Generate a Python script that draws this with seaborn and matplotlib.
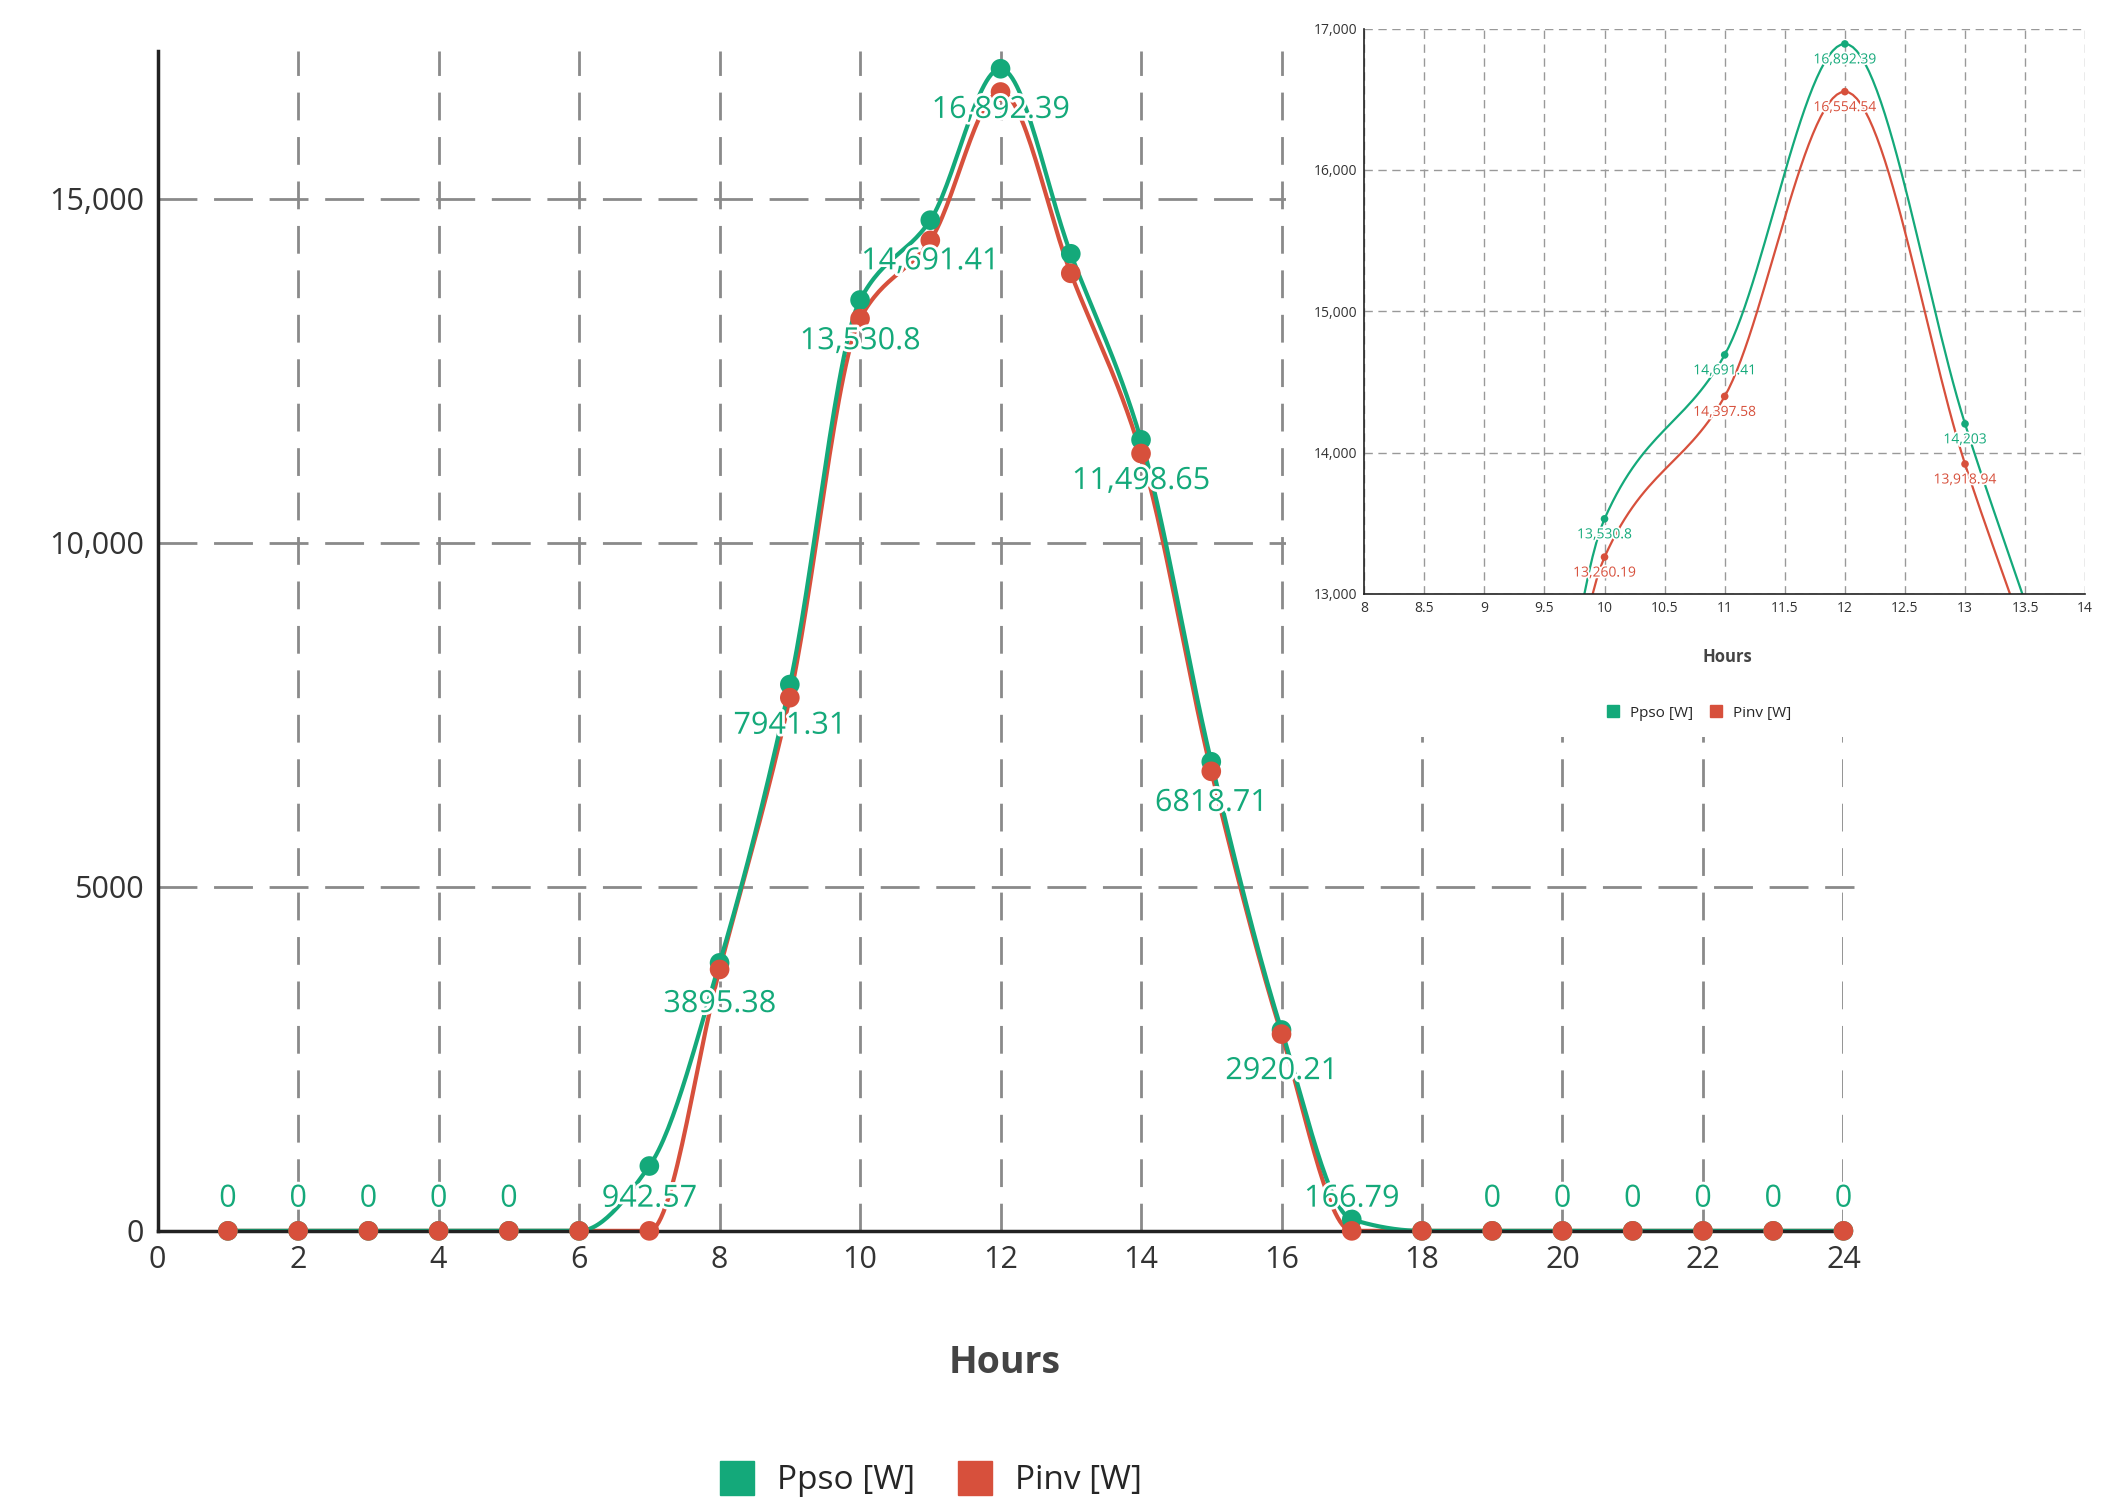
import matplotlib

matplotlib.use("Agg")

import matplotlib.pyplot as plt
import matplotlib.patheffects as pe
import numpy as np
import pandas as pd
import seaborn as sns
from matplotlib.lines import Line2D
from matplotlib.patches import Rectangle

hours = list(range(1, 25))
ppso = [0, 0, 0, 0, 0, 0, 942.57, 3895.38, 7941.31, 13530.8, 14691.41, 16892.39,
        14203, 11498.65, 6818.71, 2920.21, 166.79, 0, 0, 0, 0, 0, 0, 0]
pinv = [0, 0, 0, 0, 0, 0, 0, 3800, 7750, 13260.19, 14397.58, 16554.54,
        13918.94, 11300, 6680, 2860, 0, 0, 0, 0, 0, 0, 0, 0]
label_hours_main = [1, 2, 3, 4, 5, 7, 8, 9, 10, 11, 12, 14, 15, 16, 17, 19, 20, 21, 22, 23, 24]
label_hours_inset = [10, 11, 12, 13]

GREEN = "#14a97a"
RED = "#d7503c"
GRID = "#8a8a8a"
HALO = [pe.withStroke(linewidth=4, foreground="white")]


def smooth(x, y, n=30):
    # monotone cubic (Fritsch-Carlson) path through the points, no overshoot
    x = np.asarray(x, float)
    y = np.asarray(y, float)
    h = np.diff(x)
    d = np.diff(y) / h
    m = np.zeros_like(y)
    m[0], m[-1] = d[0], d[-1]
    for i in range(1, len(y) - 1):
        if d[i - 1] * d[i] > 0:
            m[i] = 2 / (1 / d[i - 1] + 1 / d[i])
    xs, ys = [], []
    t = np.linspace(0, 1, n, endpoint=False)
    for i in range(len(h)):
        h00 = 2 * t ** 3 - 3 * t ** 2 + 1
        h10 = t ** 3 - 2 * t ** 2 + t
        h01 = -2 * t ** 3 + 3 * t ** 2
        h11 = t ** 3 - t ** 2
        xs.extend(x[i] + t * h[i])
        ys.extend(h00 * y[i] + h10 * h[i] * m[i] + h01 * y[i + 1] + h11 * h[i] * m[i + 1])
    xs.append(x[-1])
    ys.append(y[-1])
    return pd.DataFrame({"x": xs, "y": ys})


def fmt(v):
    if v == 0:
        return "0"
    if v >= 10000:
        return f"{v:,.2f}".rstrip("0").rstrip(".")
    return f"{v:g}"


sns.set_theme(style="white")
plt.rcParams["font.family"] = ["Open Sans", "DejaVu Sans"]

df = pd.DataFrame({"hour": hours, "ppso": ppso, "pinv": pinv})
curve_g = smooth(hours, ppso)
curve_r = smooth(hours, pinv)

fig = plt.figure(figsize=(21.02, 15.11), dpi=100)
ax = fig.add_axes([0.075, 0.1854, 0.802, 0.781])

ax.set_xlim(0, 24)
ax.set_ylim(0, 17154)
ax.set_xticks(range(0, 25, 2))
ax.set_yticks([0, 5000, 10000, 15000])
ax.set_yticklabels(["0", "5000", "10,000", "15,000"])
for v in range(2, 25, 2):
    ax.axvline(v, color=GRID, lw=2, dashes=(10, 6), zorder=0)
for v in [5000, 10000, 15000]:
    ax.plot([0, 24.15], [v, v], color=GRID, lw=2, dashes=(14, 6), zorder=0, clip_on=False)

sns.lineplot(data=curve_r, x="x", y="y", color=RED, lw=3, ax=ax, clip_on=False)
sns.lineplot(data=curve_g, x="x", y="y", color=GREEN, lw=3, ax=ax, clip_on=False)
sns.scatterplot(data=df, x="hour", y="ppso", color=GREEN, s=200, edgecolor="none", ax=ax, zorder=4, clip_on=False)
sns.scatterplot(data=df, x="hour", y="pinv", color=RED, s=200, edgecolor="none", ax=ax, zorder=5, clip_on=False)

for h in label_hours_main:
    v = ppso[h - 1]
    if v < 1000:
        ax.text(h, 250, fmt(v), ha="center", va="bottom", color=GREEN, fontsize=22,
                path_effects=HALO, zorder=6)
    else:
        ax.text(h, v - 380, fmt(v), ha="center", va="top", color=GREEN, fontsize=22,
                path_effects=HALO, zorder=6)

for s in ["top", "right"]:
    ax.spines[s].set_visible(False)
for s in ["left", "bottom"]:
    ax.spines[s].set_color("#222222")
    ax.spines[s].set_linewidth(2.5)
ax.tick_params(axis="both", labelsize=22, colors="#333333", length=0, pad=10)
ax.set_xlabel("")
ax.set_ylabel("")
fig.text(0.478, 0.098, "Hours", ha="center", va="center", fontsize=27, fontweight="bold", color="#444444")

handles = [Line2D([], [], marker="s", ls="", color=GREEN, markersize=24),
           Line2D([], [], marker="s", ls="", color=RED, markersize=24)]
fig.legend(handles, ["Ppso [W]", "Pinv [W]"], loc="center", bbox_to_anchor=(0.439, 0.02),
           ncol=2, frameon=False, fontsize=24, handletextpad=0.2, columnspacing=0.8)

# inset covering the upper right part
fig.patches.append(Rectangle((0.612, 0.512), 0.388, 0.488, transform=fig.transFigure,
                             facecolor="white", edgecolor="none", zorder=10))
ins = fig.add_axes([0.649, 0.607, 0.343, 0.374], zorder=11)
ins.set_xlim(8, 14)
ins.set_ylim(13000, 17000)
ins.set_xticks(np.arange(8, 14.01, 0.5))
ins.set_xticklabels([f"{v:g}" for v in np.arange(8, 14.01, 0.5)])
ins.set_yticks([13000, 14000, 15000, 16000, 17000])
ins.set_yticklabels(["13,000", "14,000", "15,000", "16,000", "17,000"])
ins.grid(True, color="#999999", lw=1, dashes=(6, 4))
sns.lineplot(data=curve_r, x="x", y="y", color=RED, lw=1.6, ax=ins)
sns.lineplot(data=curve_g, x="x", y="y", color=GREEN, lw=1.6, ax=ins)
sns.scatterplot(data=df, x="hour", y="ppso", color=GREEN, s=30, edgecolor="none", ax=ins, zorder=4)
sns.scatterplot(data=df, x="hour", y="pinv", color=RED, s=30, edgecolor="none", ax=ins, zorder=5)
for h in label_hours_inset:
    g, r = ppso[h - 1], pinv[h - 1]
    ins.text(h, g - 60, fmt(g), ha="center", va="top", color=GREEN, fontsize=10,
             path_effects=[pe.withStroke(linewidth=2.5, foreground="white")], zorder=6)
    ins.text(h, r - 60, fmt(r), ha="center", va="top", color=RED, fontsize=10,
             path_effects=[pe.withStroke(linewidth=2.5, foreground="white")], zorder=6)
for s in ["top", "right"]:
    ins.spines[s].set_visible(False)
for s in ["left", "bottom"]:
    ins.spines[s].set_color("#222222")
    ins.spines[s].set_linewidth(1.2)
ins.tick_params(axis="both", labelsize=10, colors="#333333", length=0, pad=5)
ins.set_xlabel("")
ins.set_ylabel("")
fig.text(0.822, 0.565, "Hours", ha="center", va="center", fontsize=12, fontweight="bold",
         color="#444444", zorder=12)
ih = [Line2D([], [], marker="s", ls="", color=GREEN, markersize=9),
      Line2D([], [], marker="s", ls="", color=RED, markersize=9)]
leg = fig.legend(ih, ["Ppso [W]", "Pinv [W]"], loc="center", bbox_to_anchor=(0.806, 0.528),
                 ncol=2, frameon=False, fontsize=11, handletextpad=0.1, columnspacing=0.5)
leg.set_zorder(12)

fig.savefig("out.png", dpi=100, facecolor="white")
